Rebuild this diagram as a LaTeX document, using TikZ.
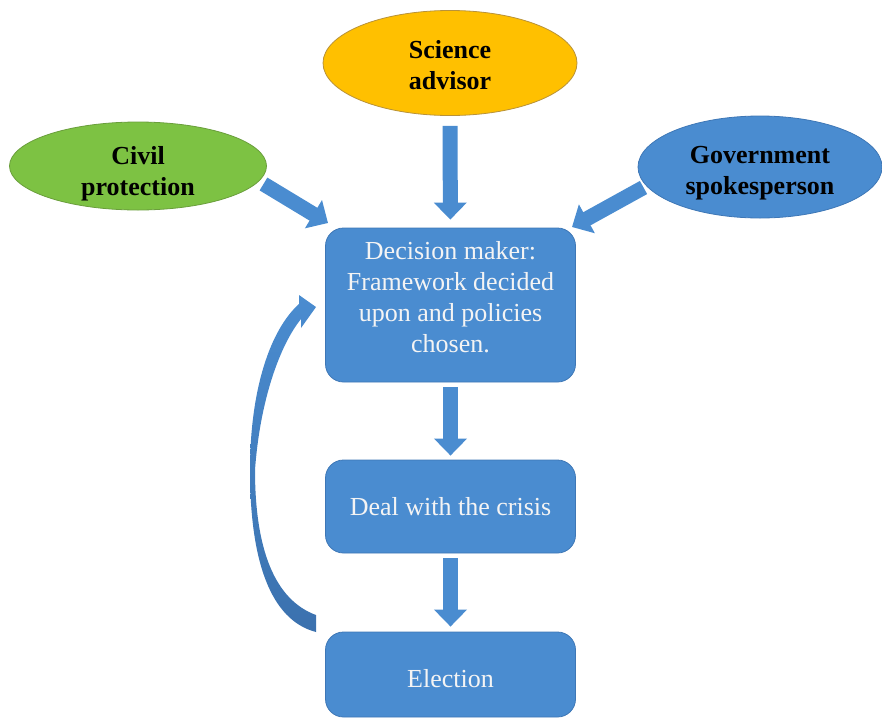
\documentclass[tikz,border=0pt]{standalone}
\usepackage{fontspec}
\setmainfont{Liberation Serif}
\usetikzlibrary{shapes.geometric,arrows.meta,calc}

\definecolor{boxblue}{HTML}{4A8CD0}
\definecolor{boxedge}{HTML}{3E77B6}
\definecolor{loopdark}{HTML}{3B71AE}
\definecolor{leafgreen}{HTML}{7DC243}
\definecolor{greenedge}{HTML}{6A9E3C}
\definecolor{gold}{HTML}{FFC000}
\definecolor{goldedge}{HTML}{B8923A}
\definecolor{pale}{HTML}{F4F4F4}

% fixed-height struts so a single line sits a little below the box centre
\newcommand{\topstrut}[1]{\rule{0pt}{#1pt}}
\newcommand{\botstrut}{\rule[-8pt]{0pt}{0pt}}

\begin{document}
\begin{tikzpicture}[x=1pt,y=-1pt,
  actor/.style={ellipse, draw, line width=0.8pt, inner sep=0pt},
  actortext/.style={inner sep=0pt, align=center,
    font=\fontsize{26}{31}\selectfont\bfseries, text=black},
  stage/.style={draw=boxedge, fill=boxblue, line width=0.8pt, rounded corners=18pt,
    inner sep=0pt, align=center, text=pale, font=\fontsize{26}{31}\selectfont,
    minimum width=250pt},
  flow/.style={draw=boxblue, line width=15pt,
    -{Triangle[width=32pt,length=17pt]}}
]
\useasboundingbox (0,0) rectangle (882,723);

% actors feeding the decision maker
\node[actor, fill=gold, draw=goldedge, minimum width=254pt, minimum height=105pt]
  (sci) at (450,63) {};
\node[actortext] (scitext) at (450,65.5) {Science\\advisor};
\node[actor, fill=leafgreen, draw=greenedge, minimum width=257pt, minimum height=88pt]
  (civ) at (138,166) {};
\node[actortext] (civtext) at (138,174) {Civil\\protection};
\node[actor, fill=boxblue, draw=boxedge, minimum width=244pt, minimum height=102pt]
  (gov) at (760,167) {};
\node[actortext] (govtext) at (760,173.5) {Government\\spokesperson};

% process column
\node[stage, minimum height=154pt] (dec) at (450.5,305)
  {Decision maker:\\Framework decided\\upon and policies\\chosen.\rule[-16pt]{0pt}{0pt}};
\node[stage, minimum height=93pt] (deal) at (450.5,506.5) {Deal with the crisis};
\node[stage, minimum height=85pt] (elec) at (450.5,674.5) {\topstrut{33}Election\botstrut};

% block arrows
\coordinate (civtail) at (263.5,184);
\coordinate (civtip) at (328,223);
\coordinate (govtail) at (643.5,187.5);
\coordinate (govtip) at (572,227);

\draw[flow, shorten <=10pt, shorten >=8pt] (sci) -- (dec);
\draw[flow] (civtail) -- (civtip);
\draw[flow] (govtail) -- (govtip);
\draw[flow, shorten <=5pt, shorten >=4pt] (dec) -- (deal);
\draw[flow, shorten <=5pt, shorten >=5pt] (deal) -- (elec);

% curved feedback arrow from the election back to the decision maker
\shade[top color=boxblue, bottom color=loopdark]
  (316,632) .. controls (270,620) and (250,560) .. (250,470)
            .. controls (250,390) and (270,330) .. (299,304)
  -- (299,295) -- (316,307) -- (301,328) -- (301,319)
            .. controls (280,345) and (260,400) .. (255,470)
            .. controls (255,550) and (275,600) .. (316,615)
  -- cycle;
\end{tikzpicture}
\end{document}
